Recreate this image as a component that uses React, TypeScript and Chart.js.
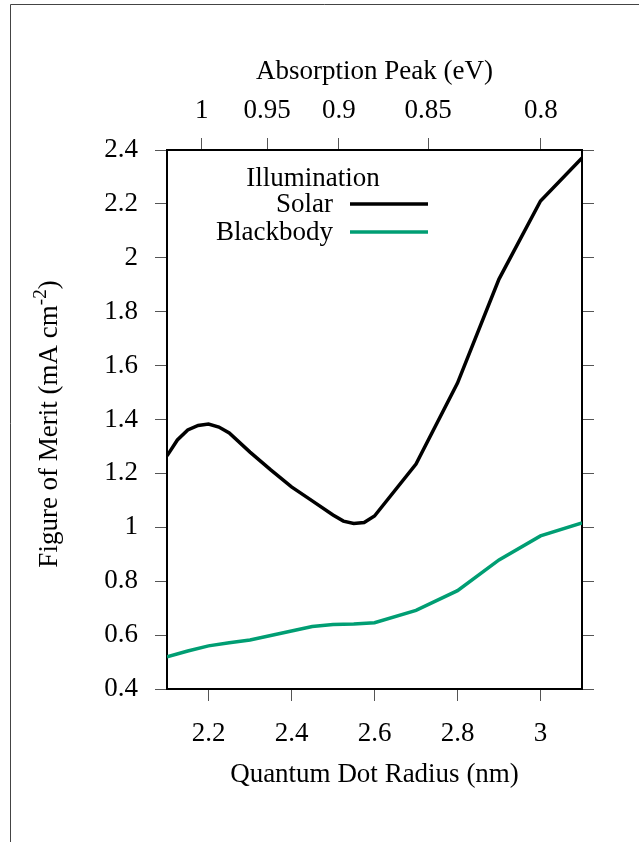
import React, { useEffect, useRef } from 'react';
import { Chart, registerables } from 'chart.js';
Chart.register(...registerables);

const solarRadius = [2.1, 2.125, 2.15, 2.175, 2.2, 2.225, 2.25, 2.3, 2.35, 2.4, 2.45, 2.5, 2.525, 2.55, 2.575, 2.6, 2.7, 2.8, 2.9, 3.0, 3.1];
const solarMerit = [1.265, 1.324, 1.361, 1.378, 1.383, 1.372, 1.35, 1.279, 1.213, 1.15, 1.098, 1.046, 1.023, 1.014, 1.018, 1.042, 1.235, 1.535, 1.921, 2.211, 2.37];
const bbRadius = [2.1, 2.15, 2.2, 2.25, 2.3, 2.4, 2.45, 2.5, 2.55, 2.6, 2.7, 2.8, 2.9, 3.0, 3.1];
const bbMerit = [0.519, 0.541, 0.56, 0.572, 0.582, 0.615, 0.632, 0.639, 0.641, 0.646, 0.692, 0.765, 0.879, 0.968, 1.016];
const xTicks = [2.2, 2.4, 2.6, 2.8, 3.0];
const yTicks = [0.4, 0.6, 0.8, 1.0, 1.2, 1.4, 1.6, 1.8, 2.0, 2.2, 2.4];
const peakLabels = ['1', '0.95', '0.9', '0.85', '0.8'];
const peakRadius = [2.184, 2.341, 2.514, 2.729, 3.001];

const FAMILY = '"Liberation Serif", "DejaVu Serif", serif';
const FS = 27;
const fmt = (v: number) => String(parseFloat(Number(v).toFixed(2)));

const decor = {
  id: 'decor',
  beforeDraw(chart: any) {
    const ctx = chart.ctx;
    ctx.save();
    ctx.fillStyle = '#fff';
    ctx.fillRect(0, 0, chart.width, chart.height);
    ctx.strokeStyle = '#444';
    ctx.lineWidth = 1;
    ctx.beginPath();
    ctx.moveTo(10.5, 842);
    ctx.lineTo(10.5, 4.5);
    ctx.lineTo(639, 4.5);
    ctx.stroke();
    ctx.restore();
  },
  afterDraw(chart: any) {
    const ctx = chart.ctx;
    const a = chart.chartArea;
    const cx = (a.left + a.right) / 2;
    ctx.save();
    ctx.fillStyle = '#000';
    ctx.font = `${FS}px ${FAMILY}`;
    ctx.textAlign = 'center';
    ctx.textBaseline = 'middle';
    ctx.fillText('Absorption Peak (eV)', cx, 72);
    ctx.fillText('Quantum Dot Radius (nm)', cx, 775);

    // y title with superscript
    const main = 'Figure of Merit (mA cm';
    const sup = '-2';
    const close = ')';
    const supFont = `${Math.round(FS * 0.7)}px ${FAMILY}`;
    ctx.font = `${FS}px ${FAMILY}`;
    const w1 = ctx.measureText(main).width;
    const w3 = ctx.measureText(close).width;
    ctx.font = supFont;
    const w2 = ctx.measureText(sup).width;
    const total = w1 + w2 + w3;
    ctx.translate(57, 424);
    ctx.rotate(-Math.PI / 2);
    ctx.textAlign = 'left';
    ctx.textBaseline = 'alphabetic';
    const x0 = -total / 2;
    ctx.font = `${FS}px ${FAMILY}`;
    ctx.fillText(main, x0, 0);
    ctx.font = supFont;
    ctx.fillText(sup, x0 + w1, -11);
    ctx.font = `${FS}px ${FAMILY}`;
    ctx.fillText(close, x0 + w1 + w2, 0);
    ctx.restore();

    // legend
    ctx.save();
    ctx.fillStyle = '#000';
    ctx.font = `${FS}px ${FAMILY}`;
    ctx.textBaseline = 'middle';
    ctx.textAlign = 'center';
    ctx.fillText('Illumination', 313, 179);
    ctx.textAlign = 'right';
    const ds = chart.data.datasets;
    const rows = [204, 232];
    ds.forEach((d: any, i: number) => {
      ctx.fillStyle = '#000';
      ctx.fillText(d.label, 333, rows[i] + 1);
      ctx.strokeStyle = d.borderColor;
      ctx.lineWidth = d.borderWidth;
      ctx.beginPath();
      ctx.moveTo(350, rows[i]);
      ctx.lineTo(428, rows[i]);
      ctx.stroke();
    });
    ctx.restore();
  },
};

const gridOpts = { drawOnChartArea: false, drawTicks: true, tickLength: 12, color: '#555', lineWidth: 1 };
const borderOpts = { display: true, color: '#000', width: 2 };
const tickFont = { family: FAMILY, size: FS };

export default function App() {
  const ref = useRef<HTMLCanvasElement>(null);
  useEffect(() => {
    if (!ref.current) return;
    const chart = new Chart(ref.current, {
      type: 'line',
      data: {
        datasets: [
          {
            label: 'Solar',
            data: solarRadius.map((r, i) => ({ x: r, y: solarMerit[i] })),
            borderColor: '#000000',
            borderWidth: 3.5,
            pointRadius: 0,
            tension: 0,
            fill: false,
          },
          {
            label: 'Blackbody',
            data: bbRadius.map((r, i) => ({ x: r, y: bbMerit[i] })),
            borderColor: '#009E73',
            borderWidth: 3.5,
            pointRadius: 0,
            tension: 0,
            fill: false,
          },
        ],
      },
      options: {
        animation: false,
        responsive: false,
        devicePixelRatio: 1,
        layout: { padding: 0 },
        plugins: { legend: { display: false }, tooltip: { enabled: false }, title: { display: false } },
        scales: {
          x: {
            type: 'linear',
            position: 'bottom',
            min: 2.1,
            max: 3.1,
            afterBuildTicks: (s: any) => { s.ticks = xTicks.map((v) => ({ value: v })); },
            afterFit: (s: any) => { s.height = 153; },
            ticks: { callback: (v: any) => fmt(v), font: tickFont, color: '#000', padding: 17, autoSkip: false, maxRotation: 0 },
            grid: gridOpts,
            border: borderOpts,
          },
          xTop: {
            type: 'linear',
            position: 'top',
            min: 2.1,
            max: 3.1,
            afterBuildTicks: (s: any) => { s.ticks = peakRadius.map((v) => ({ value: v })); },
            afterFit: (s: any) => { s.height = 150; },
            ticks: { callback: (_v: any, i: number) => peakLabels[i], font: tickFont, color: '#000', padding: 11, autoSkip: false, maxRotation: 0 },
            grid: gridOpts,
            border: borderOpts,
          },
          y: {
            type: 'linear',
            position: 'left',
            min: 0.4,
            max: 2.4,
            afterBuildTicks: (s: any) => { s.ticks = yTicks.map((v) => ({ value: v })); },
            afterFit: (s: any) => { s.width = 167; },
            ticks: { callback: (v: any) => fmt(v), font: tickFont, color: '#000', padding: 17, autoSkip: false },
            grid: gridOpts,
            border: borderOpts,
          },
          yRight: {
            type: 'linear',
            position: 'right',
            min: 0.4,
            max: 2.4,
            afterBuildTicks: (s: any) => { s.ticks = yTicks.map((v) => ({ value: v })); },
            afterFit: (s: any) => { s.width = 57; },
            ticks: { display: false },
            grid: gridOpts,
            border: borderOpts,
          },
        },
      },
      plugins: [decor],
    } as any);
    return () => chart.destroy();
  }, []);
  return (
    <div style={{ position: 'fixed', left: 0, top: 0, width: 639, height: 842 }}>
      <canvas ref={ref} width={639} height={842} style={{ width: 639, height: 842, display: 'block' }} />
    </div>
  );
}
